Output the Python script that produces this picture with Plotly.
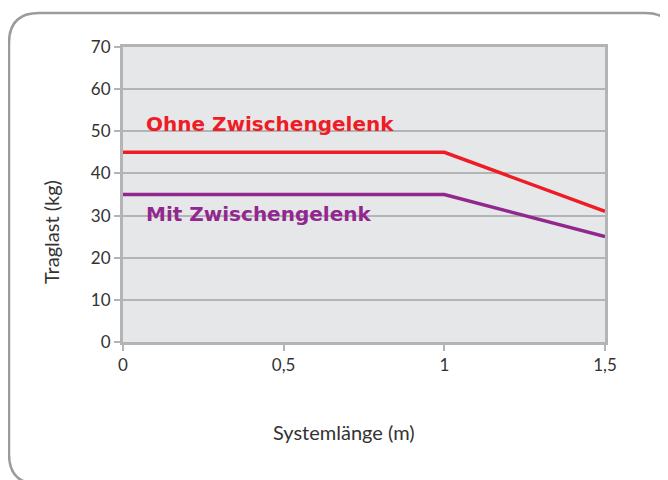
import plotly.graph_objects as go

x_vals = [0, 1, 1.5]
ohne = [45, 45, 31]
mit = [35, 35, 25]
x_ticks = [0, 0.5, 1, 1.5]
x_ticklabels = ["0", "0,5", "1", "1,5"]
y_ticks = [0, 10, 20, 30, 40, 50, 60, 70]

OFF = 8  # default page body margin
W, H = 668, 480
L, T = 123 - OFF, 47 - OFF
pw, ph = 482, 295
R, B = W - L - pw, H - T - ph

def px2paper(x, y):
    # x, y are screenshot pixel positions
    x -= OFF
    y -= OFF
    return (x - L) / pw, (T + ph - y) / ph

fig = go.Figure()
fig.add_trace(go.Scatter(x=x_vals, y=ohne, mode="lines",
                         line=dict(color="#ee1c25", width=3.5), showlegend=False))
fig.add_trace(go.Scatter(x=x_vals, y=mit, mode="lines",
                         line=dict(color="#92278f", width=3.5), showlegend=False))

fig.add_annotation(x=0.066, y=51.7, xref="x", yref="y", text="<b>Ohne Zwischengelenk</b>",
                   showarrow=False, xanchor="left", yanchor="middle",
                   font=dict(family="DejaVu Sans", size=20, color="#ee1c25"))
fig.add_annotation(x=0.066, y=30.4, xref="x", yref="y", text="<b>Mit Zwischengelenk</b>",
                   showarrow=False, xanchor="left", yanchor="middle",
                   font=dict(family="DejaVu Sans", size=20, color="#92278f"))

# axis titles
ax, ay = px2paper(344, 432)
fig.add_annotation(x=ax, y=ay, xref="paper", yref="paper", text="Systemlänge (m)",
                   showarrow=False, xanchor="center", yanchor="middle",
                   font=dict(family="Lato", size=20, color="#333333"))
ax, ay = px2paper(51, 232)
fig.add_annotation(x=ax, y=ay, xref="paper", yref="paper", text="Traglast (kg)",
                   showarrow=False, xanchor="center", yanchor="middle", textangle=-90,
                   font=dict(family="Lato", size=20, color="#333333"))

# rounded outer border
x0, y0, x1, y1, r = 9, 13, 675, 484, 30
def P(x, y):
    a, b = px2paper(x, y)
    return f"{a:.5f},{b:.5f}"
path = (f"M {P(x0 + r, y0)} L {P(x1 - r, y0)} Q {P(x1, y0)} {P(x1, y0 + r)} "
        f"L {P(x1, y1 - r)} Q {P(x1, y1)} {P(x1 - r, y1)} "
        f"L {P(x0 + r, y1)} Q {P(x0, y1)} {P(x0, y1 - r)} "
        f"L {P(x0, y0 + r)} Q {P(x0, y0)} {P(x0 + r, y0)} Z")
fig.add_shape(type="path", path=path, xref="paper", yref="paper",
              line=dict(color="#9b9b9b", width=2.5), layer="below")

fig.update_xaxes(range=[0, 1.5], tickvals=x_ticks, ticktext=x_ticklabels,
                 showgrid=False, zeroline=False, showline=True, linecolor="#b3b4b6",
                 linewidth=3, mirror=True, ticks="outside", ticklen=6, tickwidth=2,
                 tickcolor="#b3b4b6",
                 tickfont=dict(family="Lato", size=17, color="#333333"))
fig.update_yaxes(range=[0, 70], tickvals=y_ticks, showgrid=True, gridcolor="#b3b4b6",
                 gridwidth=2, zeroline=False, showline=True, linecolor="#b3b4b6",
                 linewidth=3, mirror=True, ticks="outside", ticklen=6, tickwidth=2,
                 tickcolor="#b3b4b6",
                 tickfont=dict(family="Lato", size=17, color="#333333"))

fig.update_layout(width=W, height=H, margin=dict(l=L, r=R, t=T, b=B),
                  plot_bgcolor="#e6e7e8", paper_bgcolor="white", showlegend=False)

fig.write_html("out.html")
